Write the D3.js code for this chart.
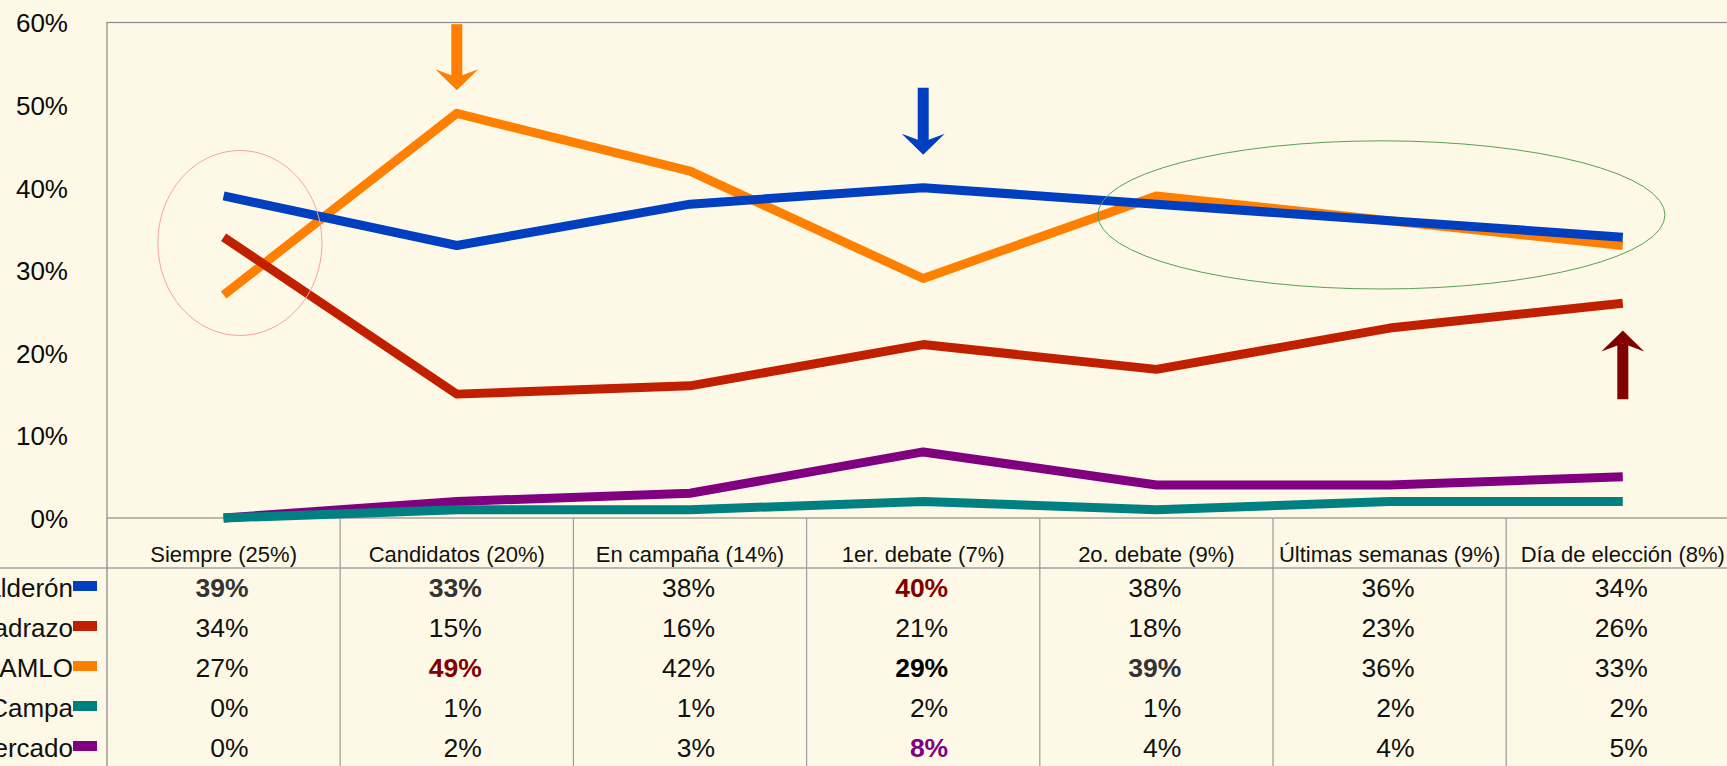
<!DOCTYPE html>
<html>
<head>
<meta charset="utf-8">
<script src="https://cdn.jsdelivr.net/npm/d3@7"></script>
<style>
  body { margin: 0; background: #fef9e6; }
  svg { display: block; font-family: "Liberation Sans", Arial, sans-serif; }
</style>
</head>
<body>
<svg id="chart"></svg>
<script>
const width = 1727;
const height = 766;

// Data
const categories = ["Siempre (25%)", "Candidatos (20%)", "En campaña (14%)", "1er. debate (7%)",
                    "2o. debate (9%)", "Últimas semanas (9%)", "Día de elección (8%)"];
const seriesNames = ["Calderón", "Madrazo", "AMLO", "Campa", "Mercado"];
const seriesColors = ["#0040c0", "#c02000", "#ff8000", "#008080", "#800080"];
const calderon = [39, 33, 38, 40, 38, 36, 34];
const madrazo  = [34, 15, 16, 21, 18, 23, 26];
const amlo     = [27, 49, 42, 29, 39, 36, 33];
const campa    = [0, 1, 1, 2, 1, 2, 2];
const mercado  = [0, 2, 3, 8, 4, 4, 5];
const yTicks = [0, 10, 20, 30, 40, 50, 60];

// highlighted cells in the table: [series, category, colour]
const highlights = [
  ["Calderón", 0, "#333333"], ["Calderón", 1, "#333333"], ["Calderón", 3, "#800000"],
  ["AMLO", 1, "#800000"], ["AMLO", 3, "#000000"], ["AMLO", 4, "#333333"],
  ["Mercado", 3, "#800080"]
];

// annotations (category, value in %)
const arrows = [
  {cat: 1, from: 59.8, to: 51.8, color: "#ff8000"},
  {cat: 3, from: 52.1, to: 44.0, color: "#0040c0"},
  {cat: 6, from: 14.5, to: 22.7, color: "#800000"}
];
const rings = [
  {cat: 0, shift: 0.07, value: 33.3, rx: 0.352, ry: 11.2, color: "#f4a3a3"},
  {cat: 5, shift: -0.035, value: 36.7, rx: 1.216, ry: 8.97, color: "#5a9e5a"}
];

const series = seriesNames.map((name, i) => ({
  name, color: seriesColors[i],
  values: [calderon, madrazo, amlo, campa, mercado][i]
}));

const plot = {left: 107, top: 22.5, bottom: 518, band: 233.2};
const plotRight = plot.left + categories.length * plot.band;

const svg = d3.select("#chart")
  .attr("width", width)
  .attr("height", height);

svg.append("rect")
  .attr("width", width).attr("height", height)
  .attr("fill", "#fef9e6");

const x = d3.scaleBand()
  .domain(d3.range(categories.length))
  .range([plot.left, plotRight]);

const y = d3.scaleLinear()
  .domain([0, 60])
  .range([plot.bottom, plot.top]);

const cx = i => x(i) + x.bandwidth() / 2;

// Plot frame
svg.append("rect")
  .attr("x", plot.left).attr("y", plot.top)
  .attr("width", plotRight - plot.left).attr("height", plot.bottom - plot.top)
  .attr("fill", "none")
  .attr("stroke", "#8c8c8c")
  .attr("stroke-width", 1.2);

// Y axis
const yAxis = d3.axisLeft(y)
  .tickValues(yTicks)
  .tickSize(0)
  .tickPadding(plot.left - 68)
  .tickFormat(d => d + "%");

svg.append("g")
  .attr("transform", `translate(${plot.left},0)`)
  .call(yAxis)
  .call(g => g.select(".domain").remove())
  .selectAll("text")
    .attr("font-family", "'Liberation Sans', Arial, sans-serif")
    .attr("font-size", 26)
    .attr("fill", "#0a0a0a")
    .attr("dy", "0.36em");

// Data table grid
const grid = svg.append("g")
  .attr("stroke", "#a0a0a0")
  .attr("stroke-width", 1.3);

grid.append("line")
  .attr("x1", 0).attr("x2", plotRight)
  .attr("y1", 568).attr("y2", 568);

grid.selectAll("line.col")
  .data(d3.range(1, categories.length + 1))
  .enter()
  .append("line")
    .attr("class", "col")
    .attr("x1", d => x(d - 1) + x.bandwidth())
    .attr("x2", d => x(d - 1) + x.bandwidth())
    .attr("y1", plot.bottom)
    .attr("y2", height);

grid.append("line")
  .attr("x1", plot.left).attr("x2", plot.left)
  .attr("y1", plot.bottom).attr("y2", height)
  .attr("stroke", "#8c8c8c");

// Category header
svg.selectAll("text.cat")
  .data(categories)
  .enter()
  .append("text")
    .attr("class", "cat")
    .attr("x", (d, i) => cx(i))
    .attr("y", 562)
    .attr("text-anchor", "middle")
    .attr("font-size", 22)
    .attr("fill", "#111")
    .text(d => d);

// Lines (drawn last series first, like the original)
const line = d3.line()
  .x((d, i) => cx(i))
  .y(d => y(d));

svg.append("g")
  .selectAll("path")
  .data(series.slice().reverse())
  .enter()
  .append("path")
    .attr("d", d => line(d.values))
    .attr("fill", "none")
    .attr("stroke", d => d.color)
    .attr("stroke-width", 9)
    .attr("stroke-linejoin", "round");

// Ellipses
svg.selectAll("ellipse.ring")
  .data(rings)
  .enter()
  .append("ellipse")
    .attr("class", "ring")
    .attr("cx", d => cx(d.cat) + d.shift * x.bandwidth())
    .attr("cy", d => y(d.value))
    .attr("rx", d => d.rx * x.bandwidth())
    .attr("ry", d => y(0) - y(d.ry))
    .attr("fill", "none")
    .attr("stroke", d => d.color)
    .attr("stroke-width", 1);

// Arrows
arrows.forEach(a => {
  const ax = cx(a.cat);
  const ys = y(a.from), yt = y(a.to);
  const dir = yt > ys ? 1 : -1;
  const notch = yt - dir * 13;
  const back = yt - dir * 21;
  const g = svg.append("g").attr("fill", a.color);
  g.append("rect")
    .attr("x", ax - 5.5)
    .attr("y", Math.min(ys, notch))
    .attr("width", 11)
    .attr("height", Math.abs(notch - ys) + 1);
  g.append("path")
    .attr("d", `M${ax - 21.5},${back}L${ax},${yt}L${ax + 21.5},${back}L${ax},${notch}Z`);
});

// Table rows: legend key + values
const rowY = i => 597 + i * 40;
const hlColor = (s, c) => {
  const h = highlights.find(d => d[0] === s && d[1] === c);
  return h ? h[2] : null;
};

const rows = svg.selectAll("g.row")
  .data(series)
  .enter()
  .append("g")
    .attr("class", "row");

rows.append("text")
  .attr("x", 73)
  .attr("y", (d, i) => rowY(i))
  .attr("text-anchor", "end")
  .attr("font-size", 26)
  .attr("fill", "#111")
  .text(d => d.name);

rows.append("rect")
  .attr("x", 73)
  .attr("y", (d, i) => rowY(i) - 16)
  .attr("width", 24)
  .attr("height", 10)
  .attr("fill", d => d.color);

rows.each(function(s, si) {
  d3.select(this).selectAll("text.val")
    .data(s.values)
    .enter()
    .append("text")
      .attr("class", "val")
      .attr("x", (d, i) => cx(i) + 25)
      .attr("y", rowY(si))
      .attr("text-anchor", "end")
      .attr("font-size", 26.5)
      .attr("font-weight", (d, i) => hlColor(s.name, i) ? "bold" : "normal")
      .attr("fill", (d, i) => hlColor(s.name, i) || "#111")
      .text(d => d + "%");
});
</script>
</body>
</html>
